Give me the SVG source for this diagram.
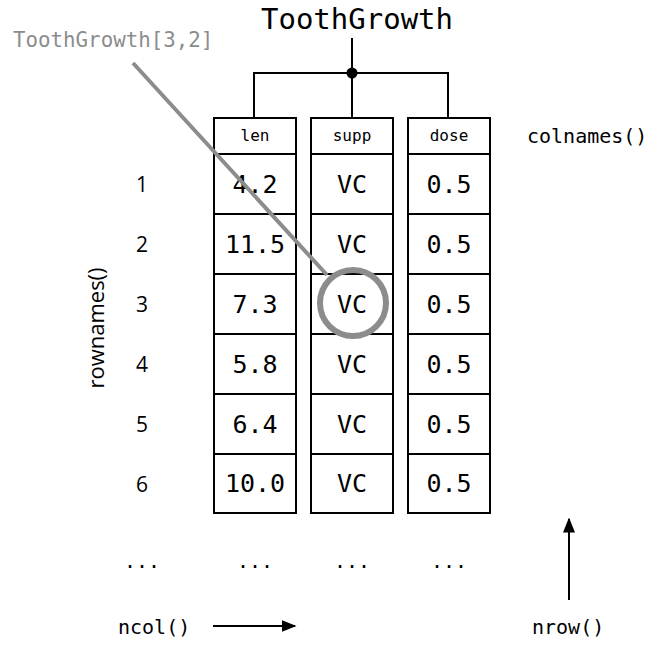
<svg xmlns="http://www.w3.org/2000/svg" width="663" height="652" viewBox="0 0 663 652">
<defs>
<style>
.mono{font-family:"DejaVu Sans Mono","Liberation Mono",monospace;fill:#000}
.sans{font-family:"Open Sans","Noto Sans","Liberation Sans",sans-serif;fill:#000}
.cell{fill:#fff;stroke:#000;stroke-width:2}
.val{font-size:25px;text-anchor:middle}
.hdr{font-size:16px;text-anchor:middle}
.conn{fill:none;stroke:#000;stroke-width:2}
.lbl{font-size:20px}
</style>
<marker id="ah" viewBox="0 0 10 10" refX="9" refY="5" markerWidth="7.5" markerHeight="7.5" orient="auto-start-reverse" markerUnits="strokeWidth">
<path d="M0,1 L10,5 L0,9 z" fill="#000"/>
</marker>
</defs>
<rect width="663" height="652" fill="#fff"/>
<g id="title"><text class="mono" x="357" y="29" font-size="29" text-anchor="middle">ToothGrowth</text></g>
<g id="connectors">
<path class="conn" d="M352,38 V118 M254,118 V73 H448 V118"/>
<circle cx="352" cy="73" r="5.5" fill="#000"/>
<line class="conn" x1="213" y1="626" x2="295" y2="626" marker-end="url(#ah)"/>
<line class="conn" x1="569" y1="600" x2="569" y2="519" marker-end="url(#ah)"/>
</g>
<g id="col-len">
<rect class="cell" x="214" y="118" width="82" height="36"/>
<rect class="cell" x="214" y="154" width="82" height="60"/>
<rect class="cell" x="214" y="214" width="82" height="60"/>
<rect class="cell" x="214" y="274" width="82" height="60"/>
<rect class="cell" x="214" y="334" width="82" height="60"/>
<rect class="cell" x="214" y="394" width="82" height="60"/>
<rect class="cell" x="214" y="454" width="82" height="59"/>
<text class="mono hdr" x="255" y="141">len</text>
<text class="mono val" x="255" y="193">4.2</text>
<text class="mono val" x="255" y="253">11.5</text>
<text class="mono val" x="255" y="313">7.3</text>
<text class="mono val" x="255" y="373">5.8</text>
<text class="mono val" x="255" y="433">6.4</text>
<text class="mono val" x="255" y="492">10.0</text>
</g>
<g id="col-supp">
<rect class="cell" x="311" y="118" width="82" height="36"/>
<rect class="cell" x="311" y="154" width="82" height="60"/>
<rect class="cell" x="311" y="214" width="82" height="60"/>
<rect class="cell" x="311" y="274" width="82" height="60"/>
<rect class="cell" x="311" y="334" width="82" height="60"/>
<rect class="cell" x="311" y="394" width="82" height="60"/>
<rect class="cell" x="311" y="454" width="82" height="59"/>
<text class="mono hdr" x="352" y="141">supp</text>
<text class="mono val" x="352" y="193">VC</text>
<text class="mono val" x="352" y="253">VC</text>
<text class="mono val" x="352" y="313">VC</text>
<text class="mono val" x="352" y="373">VC</text>
<text class="mono val" x="352" y="433">VC</text>
<text class="mono val" x="352" y="492">VC</text>
</g>
<g id="col-dose">
<rect class="cell" x="408" y="118" width="82" height="36"/>
<rect class="cell" x="408" y="154" width="82" height="60"/>
<rect class="cell" x="408" y="214" width="82" height="60"/>
<rect class="cell" x="408" y="274" width="82" height="60"/>
<rect class="cell" x="408" y="334" width="82" height="60"/>
<rect class="cell" x="408" y="394" width="82" height="60"/>
<rect class="cell" x="408" y="454" width="82" height="59"/>
<text class="mono hdr" x="449" y="141">dose</text>
<text class="mono val" x="449" y="193">0.5</text>
<text class="mono val" x="449" y="253">0.5</text>
<text class="mono val" x="449" y="313">0.5</text>
<text class="mono val" x="449" y="373">0.5</text>
<text class="mono val" x="449" y="433">0.5</text>
<text class="mono val" x="449" y="492">0.5</text>
</g>
<g id="rownumbers" class="sans" font-size="21" text-anchor="middle">
<text x="142" y="192">1</text>
<text x="142" y="252">2</text>
<text x="142" y="312">3</text>
<text x="142" y="372">4</text>
<text x="142" y="432">5</text>
<text x="142" y="492">6</text>
</g>
<g id="rownames"><text class="sans" font-size="22" text-anchor="middle" transform="translate(104,328) rotate(-90)">rownames()</text></g>
<g id="colnames"><text class="mono lbl" x="527" y="143">colnames()</text></g>
<g id="ellipses" class="mono" font-size="20" text-anchor="middle">
<text x="142" y="568">...</text>
<text x="255" y="568">...</text>
<text x="352" y="568">...</text>
<text x="449" y="568">...</text>
</g>
<g id="ncol"><text class="mono lbl" x="118" y="634">ncol()</text></g>
<g id="nrow"><text class="mono lbl" x="532" y="634">nrow()</text></g>
<g id="index">
<text x="13" y="47" font-family="DejaVu Sans Mono,Liberation Mono,monospace" font-size="20.8" fill="#8c8c8c">ToothGrowth[3,2]</text>
<line x1="133" y1="63" x2="327" y2="275" stroke="#8c8c8c" stroke-width="4"/>
<circle cx="353" cy="303" r="33" fill="none" stroke="#8c8c8c" stroke-width="6"/>
</g>
</svg>
